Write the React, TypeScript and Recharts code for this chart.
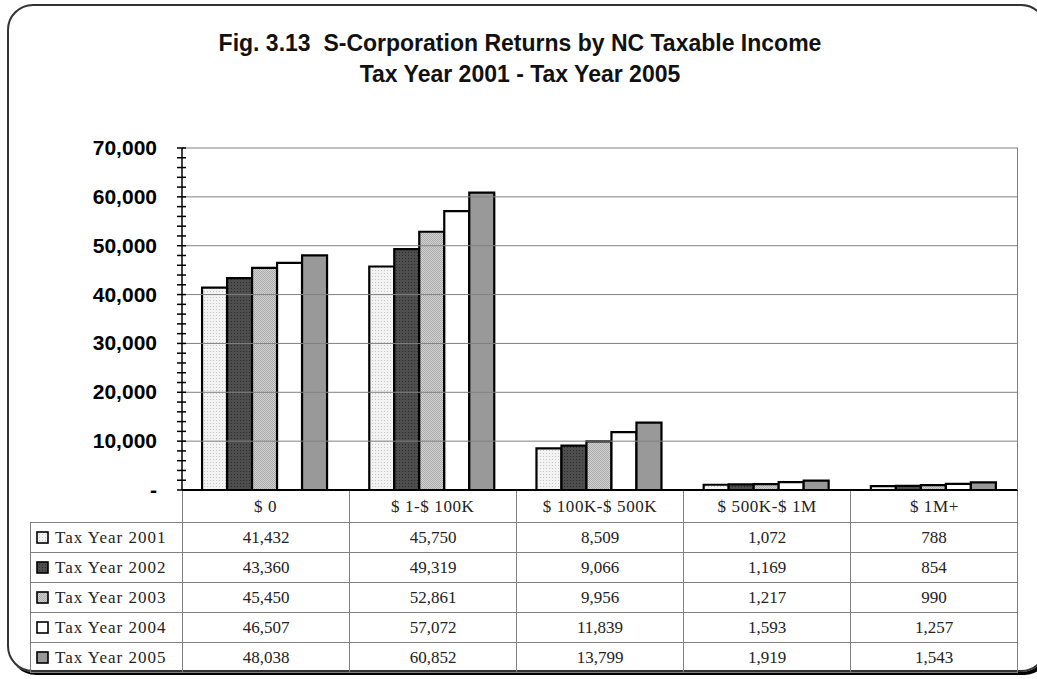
import React from 'react';
import { BarChart, Bar, XAxis, YAxis, ReferenceLine } from 'recharts';

// income brackets along the x axis
const categories = ['$ 0', '$ 1-$ 100K', '$ 100K-$ 500K', '$ 500K-$ 1M', '$ 1M+'];

// returns per tax year, one array per series
const year2001 = [41432, 45750, 8509, 1072, 788];
const year2002 = [43360, 49319, 9066, 1169, 854];
const year2003 = [45450, 52861, 9956, 1217, 990];
const year2004 = [46507, 57072, 11839, 1593, 1257];
const year2005 = [48038, 60852, 13799, 1919, 1543];

const seriesNames = ['Tax Year 2001', 'Tax Year 2002', 'Tax Year 2003', 'Tax Year 2004', 'Tax Year 2005'];
const seriesKeys = ['y2001', 'y2002', 'y2003', 'y2004', 'y2005'];
const seriesValues = [year2001, year2002, year2003, year2004, year2005];
const seriesFills = ['url(#p2001)', 'url(#p2002)', 'url(#p2003)', '#ffffff', '#999999'];

// y axis: labelled ticks and minor tick step
const majorTicks = [0, 10000, 20000, 30000, 40000, 50000, 60000, 70000];
const minorStep = 2000;
const allTicks: number[] = [];
for (let v = 0; v <= 70000; v += minorStep) allTicks.push(v);

const data = categories.map((category, i) => {
  const row: any = { category };
  seriesKeys.forEach((k, s) => (row[k] = seriesValues[s][i]));
  return row;
});

const fmt = (v: number) => v.toLocaleString('en-US');
const serif = '"Liberation Serif", "Times New Roman", serif';
const sans = '"Liberation Sans", Arial, sans-serif';
const lineColor = '#808080';

const YTick = (props: any) => {
  const { x, y, payload } = props;
  const v = payload.value;
  const major = majorTicks.includes(v);
  return (
    <g>
      <line x1={x - 5} x2={x + 4} y1={y} y2={y} stroke="#000" strokeWidth={1.5} />
      {major && (
        <text x={x - 25} y={y} dy={7} textAnchor="end" fontFamily={sans} fontWeight="bold" fontSize={21} fill="#000">
          {v === 0 ? '-' : fmt(v)}
        </text>
      )}
    </g>
  );
};

const XTick = (props: any) => {
  const { x, y, payload } = props;
  return (
    <text x={x} y={y} dy={12} textAnchor="middle" fontFamily={serif} fontSize={17} letterSpacing={0.6} fill="#222">
      {payload.value}
    </text>
  );
};

const Patterns = () => (
  <svg width={0} height={0} style={{ position: 'absolute' }}>
    <defs>
      <pattern id="p2001" width={3} height={3} patternUnits="userSpaceOnUse">
        <rect width={3} height={3} fill="#f3f3f3" />
        <rect width={1} height={1} fill="#c4c4c4" />
      </pattern>
      <pattern id="p2002" width={3} height={3} patternUnits="userSpaceOnUse">
        <rect width={3} height={3} fill="#4e4e4e" />
        <rect width={1} height={1} fill="#2c2c2c" />
      </pattern>
      <pattern id="p2003" width={2} height={2} patternUnits="userSpaceOnUse">
        <rect width={2} height={2} fill="#d2d2d2" />
        <rect width={1} height={1} fill="#ababab" />
        <rect x={1} y={1} width={1} height={1} fill="#ababab" />
      </pattern>
    </defs>
  </svg>
);

export default function App() {
  return (
    <div style={{ position: 'absolute', left: 0, top: 0, width: 1037, height: 679, overflow: 'hidden', background: '#fff' }}>
      <Patterns />
      {/* rounded frame */}
      <div
        style={{
          position: 'absolute', left: 7, top: 4, width: 1036, height: 664,
          border: '2px solid #333', borderRadius: 26, boxShadow: '3px 3px 0 #000',
        }}
      />
      <div
        style={{
          position: 'absolute', left: 0, top: 28, width: 1040, textAlign: 'center',
          fontFamily: sans, fontWeight: 'bold', fontSize: 23, lineHeight: '31px', color: '#111',
        }}
      >
        <div>Fig. 3.13&nbsp; S-Corporation Returns by NC Taxable Income</div>
        <div>Tax Year 2001 - Tax Year 2005</div>
      </div>

      <div style={{ position: 'absolute', left: 0, top: 0 }}>
        <BarChart
          width={1037}
          height={679}
          data={data}
          margin={{ top: 148, right: 19, bottom: 157, left: 102 }}
          barCategoryGap="12%"
          barGap={0}
        >
          {majorTicks.slice(1).map((v) => (
            <ReferenceLine key={v} y={v} stroke={lineColor} strokeWidth={1} />
          ))}
          <XAxis
            dataKey="category"
            height={32}
            tickLine={false}
            tickSize={0}
            tickMargin={10}
            axisLine={{ stroke: '#000', strokeWidth: 2 }}
            tick={<XTick />}
          />
          <YAxis
            width={80}
            domain={[0, 70000]}
            ticks={allTicks}
            interval={0}
            tickLine={false}
            tickSize={0}
            tickMargin={0}
            axisLine={{ stroke: '#000', strokeWidth: 1.5 }}
            tick={<YTick />}
          />
          {seriesKeys.map((k, s) => (
            <Bar
              key={k}
              dataKey={k}
              name={seriesNames[s]}
              fill={seriesFills[s]}
              stroke="#000"
              strokeWidth={2.2}
              isAnimationActive={false}
            />
          ))}
        </BarChart>
      </div>

      {/* plot right border */}
      <div style={{ position: 'absolute', left: 1017, top: 148, width: 0, height: 342, borderLeft: `1.5px solid ${lineColor}` }} />

      {/* header band lines below the axis */}
      <div
        style={{
          position: 'absolute', left: 182, top: 491, width: 836, height: 31, boxSizing: 'border-box',
          display: 'grid', gridTemplateColumns: 'repeat(5, 1fr)', borderLeft: `1.5px solid ${lineColor}`,
        }}
      >
        {categories.map((c) => (
          <div key={c} style={{ borderRight: `1.5px solid ${lineColor}` }} />
        ))}
      </div>

      {/* data table */}
      <div
        style={{
          position: 'absolute', left: 30, top: 522, width: 988, boxSizing: 'border-box',
          display: 'grid', gridTemplateColumns: '152px repeat(5, 1fr)', gridAutoRows: '30px',
          borderLeft: `1.5px solid ${lineColor}`, borderTop: `1.5px solid ${lineColor}`,
        }}
      >
        {seriesNames.map((name, s) => (
          <React.Fragment key={name}>
            <div
              style={{
                borderRight: `1.5px solid ${lineColor}`, borderBottom: `1.5px solid ${lineColor}`,
                display: 'flex', alignItems: 'center', paddingLeft: 5,
                fontFamily: serif, fontSize: 17, letterSpacing: 1, color: '#222', whiteSpace: 'nowrap',
              }}
            >
              <svg width={13} height={13} style={{ marginRight: 6 }}>
                <rect x={1} y={1} width={11} height={11} fill={seriesFills[s]} stroke="#000" strokeWidth={1.6} />
              </svg>
              {name}
            </div>
            {seriesValues[s].map((v, i) => (
              <div
                key={i}
                style={{
                  borderRight: `1.5px solid ${lineColor}`, borderBottom: `1.5px solid ${lineColor}`,
                  display: 'flex', alignItems: 'center', justifyContent: 'center',
                  fontFamily: serif, fontSize: 17, color: '#222',
                }}
              >
                {fmt(v)}
              </div>
            ))}
          </React.Fragment>
        ))}
      </div>
    </div>
  );
}
